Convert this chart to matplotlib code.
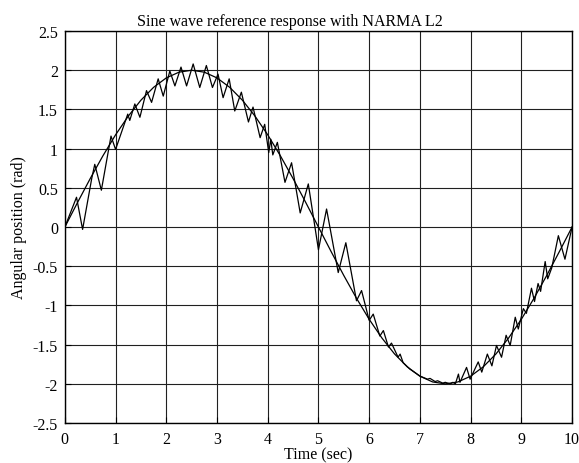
import matplotlib.pyplot as plt
import numpy as np

plt.rcParams['font.family'] = ['Liberation Serif', 'DejaVu Serif']

# reference sine, read every 0.25 s
ref_t = np.arange(0, 10.01, 0.25)
ref_y = [0.0, 0.313, 0.618, 0.908, 1.176, 1.414, 1.618, 1.782, 1.902, 1.975,
         2.0, 1.975, 1.902, 1.782, 1.618, 1.414, 1.176, 0.908, 0.618, 0.313,
         0.0, -0.313, -0.618, -0.908, -1.176, -1.414, -1.618, -1.782, -1.902, -1.975,
         -2.0, -1.975, -1.902, -1.782, -1.618, -1.414, -1.176, -0.908, -0.618, -0.313,
         0.0]

# NARMA L2 response (peaks / troughs)
resp_t = [0.00, 0.23, 0.35, 0.53, 0.59, 0.72, 0.91, 1.00, 1.24, 1.28,
          1.38, 1.48, 1.61, 1.71, 1.84, 1.94, 2.07, 2.17, 2.29, 2.40,
          2.53, 2.66, 2.79, 2.91, 3.02, 3.12, 3.24, 3.35, 3.48, 3.62,
          3.71, 3.85, 3.94, 4.02, 4.06, 4.10, 4.19, 4.34, 4.47, 4.64,
          4.80, 5.00, 5.16, 5.39, 5.54, 5.75, 5.85, 6.00, 6.08, 6.21,
          6.28, 6.38, 6.44, 6.57, 6.61, 6.67, 6.80, 7.00, 7.15, 7.20,
          7.30, 7.35, 7.45, 7.50, 7.60, 7.65, 7.70, 7.76, 7.79, 7.92,
          7.99, 8.15, 8.22, 8.33, 8.42, 8.51, 8.61, 8.70, 8.78, 8.88,
          8.94, 9.04, 9.10, 9.20, 9.26, 9.33, 9.38, 9.47, 9.52, 9.60,
          9.73, 9.86, 10.0]
resp_y = [0.00, 0.38, -0.03, 0.62, 0.80, 0.47, 1.16, 0.99, 1.44, 1.36,
          1.57, 1.40, 1.74, 1.59, 1.89, 1.67, 1.99, 1.80, 2.04, 1.80,
          2.08, 1.78, 2.06, 1.78, 1.95, 1.65, 1.89, 1.48, 1.72, 1.34,
          1.53, 1.14, 1.31, 0.95, 1.12, 0.92, 1.08, 0.57, 0.82, 0.18,
          0.55, -0.29, 0.23, -0.58, -0.20, -0.94, -0.81, -1.19, -1.11, -1.39,
          -1.32, -1.53, -1.48, -1.66, -1.62, -1.73, -1.81, -1.90, -1.94, -1.93,
          -1.97, -1.96, -1.99, -1.98, -2.00, -1.98, -2.00, -1.875, -1.98, -1.79,
          -1.94, -1.72, -1.85, -1.62, -1.77, -1.51, -1.66, -1.38, -1.51, -1.15,
          -1.30, -1.04, -1.10, -0.78, -0.95, -0.72, -0.82, -0.44, -0.66, -0.52,
          -0.11, -0.41, 0.0]

fig = plt.figure(figsize=(5.79, 4.64), dpi=100)
ax = fig.add_axes([0.112, 0.086, 0.876, 0.845])

ax.plot(ref_t, ref_y, color='black', linewidth=0.9)
ax.plot(resp_t, resp_y, color='black', linewidth=0.9)

ax.set_xlim(0, 10)
ax.set_ylim(-2.5, 2.5)
ax.set_xticks(np.arange(0, 11, 1))
ax.set_yticks(np.arange(-2.5, 2.6, 0.5))
ax.set_yticklabels(['-2.5', '-2', '-1.5', '-1', '-0.5', '0', '0.5', '1', '1.5', '2', '2.5'])
ax.grid(True, color='#202020', linewidth=0.8, linestyle='-')
ax.tick_params(direction='in', labelsize=11.5, length=4)
ax.tick_params(axis='x', pad=6)
ax.tick_params(axis='y', pad=5)
for s in ax.spines.values():
    s.set_linewidth(1.0)

# title is centred on the figure, not on the axes
fig.text(0.5, 0.945, 'Sine wave reference response with NARMA L2',
         fontsize=11.5, ha='center', va='baseline')
ax.set_xlabel('Time (sec)', fontsize=11.5, labelpad=-1)
ax.set_ylabel('Angular position (rad)', fontsize=11.5, labelpad=4)

plt.savefig('out.png', dpi=100)
